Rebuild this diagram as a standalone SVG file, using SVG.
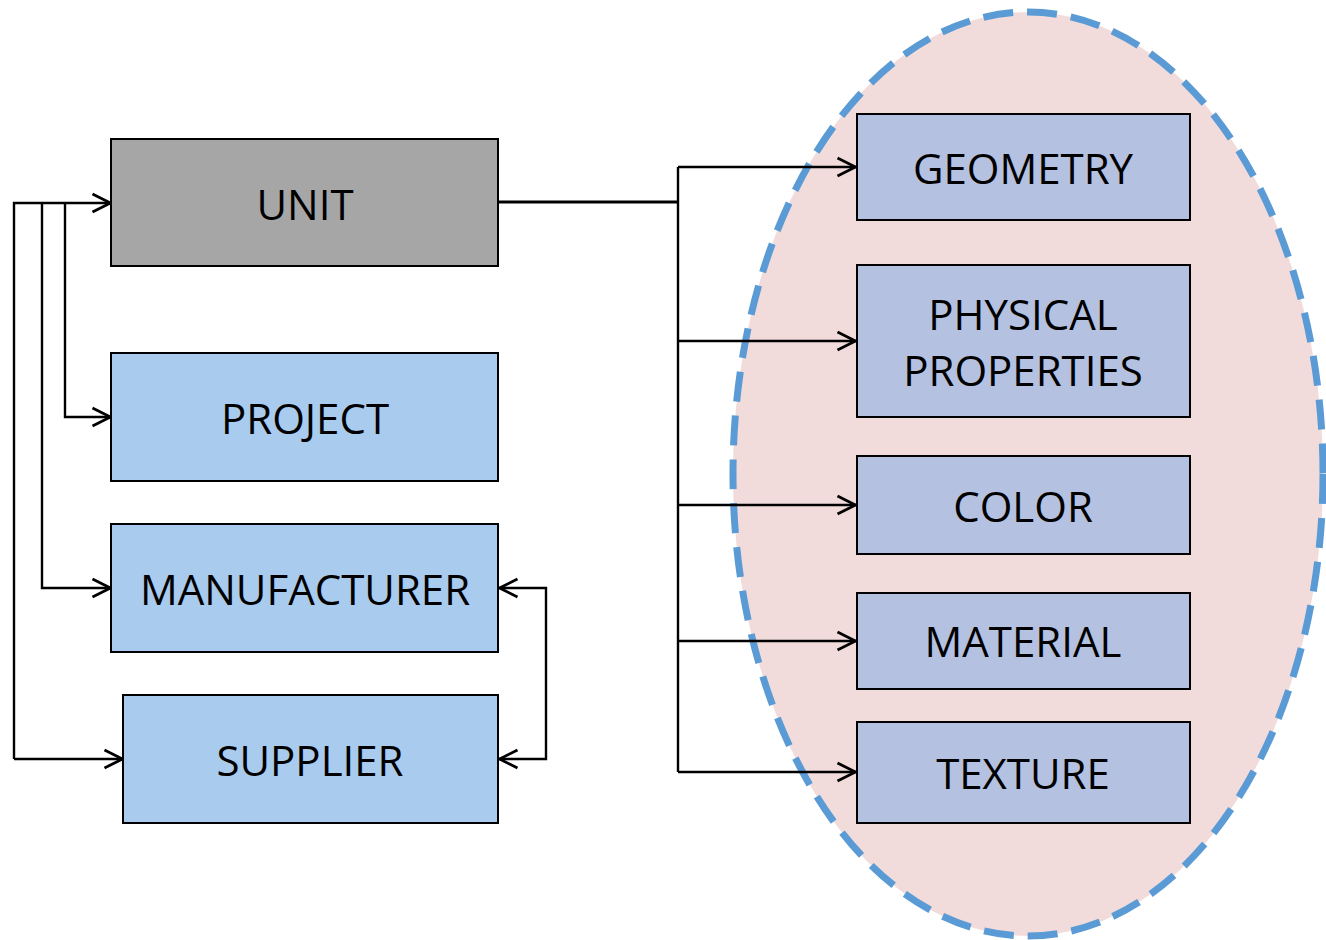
<svg xmlns="http://www.w3.org/2000/svg" width="1326" height="940" viewBox="0 0 1326 940">
<defs>
<marker id="arr" viewBox="0 0 24 24" refX="22.5" refY="12" markerWidth="24" markerHeight="24" markerUnits="userSpaceOnUse" orient="auto">
<path d="M4,3 L22,12 L4,21" fill="none" stroke="#000" stroke-width="2.8"/>
</marker>
<style>
.box{stroke:#000;stroke-width:2}
.unit{fill:#A6A6A6}
.lb{fill:#A9CBEE}
.pb{fill:#B4C1E0}
text{font-family:"Open Sans","Liberation Sans",sans-serif;font-size:42px;fill:#000;text-anchor:middle;dominant-baseline:central}
.c{fill:none;stroke:#000;stroke-width:2.4}
</style>
</defs>
<rect width="1326" height="940" fill="#fff"/>
<g id="group-ellipse">
<ellipse cx="1028" cy="474" rx="295" ry="462" fill="#F2DCDB" stroke="#5B9BD5" stroke-width="7" stroke-dasharray="30,14"/>
</g>
<g id="connectors">
<path class="c" d="M14,759 V203 H111" marker-end="url(#arr)"/>
<path class="c" d="M65,203 V417 H111" marker-end="url(#arr)"/>
<path class="c" d="M42,203 V588 H111" marker-end="url(#arr)"/>
<path class="c" d="M14,759 H123" marker-end="url(#arr)"/>
<path class="c" d="M546,670 V588 H499" marker-end="url(#arr)"/>
<path class="c" d="M546,670 V759 H499" marker-end="url(#arr)"/>
<path d="M498,202 H678" fill="none" stroke="#000" stroke-width="3.2"/>
<path class="c" d="M678,167 V772"/>
<path class="c" d="M678,167 H856" marker-end="url(#arr)"/>
<path class="c" d="M678,341 H856" marker-end="url(#arr)"/>
<path class="c" d="M678,505 H856" marker-end="url(#arr)"/>
<path class="c" d="M678,641 H856" marker-end="url(#arr)"/>
<path class="c" d="M678,772 H856" marker-end="url(#arr)"/>
</g>
<g id="unit"><rect class="box unit" x="111" y="139" width="387" height="127"/><text x="305" y="203">UNIT</text></g>
<g id="project"><rect class="box lb" x="111" y="353" width="387" height="128"/><text x="305" y="417">PROJECT</text></g>
<g id="manufacturer"><rect class="box lb" x="111" y="524" width="387" height="128"/><text x="305" y="588">MANUFACTURER</text></g>
<g id="supplier"><rect class="box lb" x="123" y="695" width="375" height="128"/><text x="310" y="759">SUPPLIER</text></g>
<g id="geometry"><rect class="box pb" x="857" y="114" width="333" height="106"/><text x="1023" y="167">GEOMETRY</text></g>
<g id="physical"><rect class="box pb" x="857" y="265" width="333" height="152"/><text x="1023" y="313">PHYSICAL</text><text x="1023" y="369">PROPERTIES</text></g>
<g id="color"><rect class="box pb" x="857" y="456" width="333" height="98"/><text x="1023" y="505">COLOR</text></g>
<g id="material"><rect class="box pb" x="857" y="593" width="333" height="96"/><text x="1023" y="640">MATERIAL</text></g>
<g id="texture"><rect class="box pb" x="857" y="722" width="333" height="101"/><text x="1023" y="772">TEXTURE</text></g>
</svg>
